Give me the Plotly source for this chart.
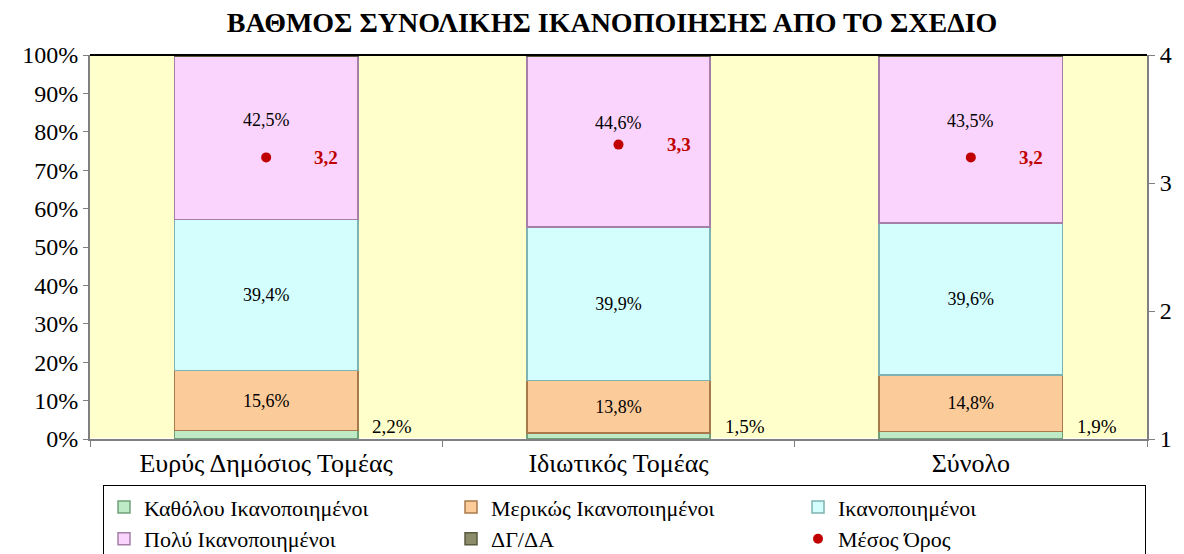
import plotly.graph_objects as go

categories = ["Ευρύς Δημόσιος Τομέας", "Ιδιωτικός Τομέας", "Σύνολο"]
katholou = [2.2, 1.5, 1.9]
merikos = [15.6, 13.8, 14.8]
ikanopoiimenoi = [39.4, 39.9, 39.6]
poly = [42.5, 44.6, 43.5]
dg_da = [0.3, 0.2, 0.2]
mesos_oros = [3.2, 3.3, 3.2]

FONT = "Liberation Serif, Times New Roman, serif"

series = [
    ("Καθόλου Ικανοποιημένοι", katholou, "#BEEBC6", "#6FA07A", False),
    ("Μερικώς Ικανοποιημένοι", merikos, "#FBCB9A", "#A8794A", True),
    ("Ικανοποιημένοι", ikanopoiimenoi, "#D4FEFE", "#7FB3B3", True),
    ("Πολύ Ικανοποιημένοι", poly, "#FAD4FC", "#A57FA8", False),
    ("ΔΓ/ΔΑ", dg_da, "#8C8C6A", "#5A5A40", False),
]

fig = go.Figure()
for name, vals, col, edge, show_text in series:
    fig.add_trace(go.Bar(
        name=name, x=categories, y=vals,
        marker=dict(color=col, line=dict(color=edge, width=1.5)),
        width=0.52,
        texttemplate="%{y:.1f}%" if show_text else None,
        textposition="inside" if show_text else "none",
        insidetextanchor="middle",
        textfont=dict(family=FONT, size=18, color="black"),
        textangle=0,
    ))

fig.add_trace(go.Scatter(
    name="Μέσος Όρος", x=categories, y=mesos_oros, yaxis="y2",
    mode="markers", marker=dict(color="#C00000", size=10),
))

# labels for the pink segment (sit a bit above the middle, as in the original)
for c, a, b, d, v in zip(categories, katholou, merikos, ikanopoiimenoi, poly):
    fig.add_annotation(x=c, y=a + b + d + v / 2, yshift=18, showarrow=False,
                       text=f"{v:.1f}%".replace(".", ","),
                       font=dict(family=FONT, size=18, color="black"))
# outside label for the green segment
for c, v in zip(categories, katholou):
    fig.add_annotation(x=c, y=0, yanchor="bottom", xshift=126, showarrow=False,
                       text=f"{v:.1f}%".replace(".", ","),
                       font=dict(family=FONT, size=19, color="black"))
# mean labels
for c, v in zip(categories, mesos_oros):
    fig.add_annotation(x=c, y=v, yref="y2", xshift=60, showarrow=False,
                       text=f"<b>{v:.1f}</b>".replace(".", ","),
                       font=dict(family=FONT, size=19, color="#C00000"))

fig.update_layout(
    barmode="stack",
    separators=",.",
    width=1184, height=554,
    margin=dict(l=90, r=37, t=55, b=115, autoexpand=False),
    paper_bgcolor="white",
    plot_bgcolor="#FFFFCC",
    font=dict(family=FONT, size=24, color="black"),
    title=dict(text="<b>ΒΑΘΜΟΣ ΣΥΝΟΛΙΚΗΣ ΙΚΑΝΟΠΟΙΗΣΗΣ ΑΠΟ ΤΟ ΣΧΕΔΙΟ</b>",
               x=0.517, xanchor="center", y=0.96, yanchor="middle",
               font=dict(family=FONT, size=28)),
    xaxis=dict(showgrid=False, ticks="outside", tickson="boundaries", ticklen=6,
               tickcolor="#808080", showline=True, linecolor="#808080", linewidth=2,
               tickfont=dict(size=26), automargin=False),
    yaxis=dict(range=[0, 100], dtick=10, ticksuffix="%", showgrid=False,
               ticks="outside", ticklen=5, tickcolor="#808080",
               showline=True, linecolor="#808080", linewidth=2,
               tickfont=dict(size=24), automargin=False),
    yaxis2=dict(range=[1, 4], dtick=1, overlaying="y", side="right",
                showgrid=False, ticks="outside", ticklen=6, tickcolor="#808080",
                showline=True, linecolor="#808080", linewidth=2,
                tickfont=dict(size=24), zeroline=False, automargin=False),
    legend=dict(orientation="h", xref="container", yref="container",
                x=0.087, xanchor="left", y=0.124, yanchor="top",
                bordercolor="black", borderwidth=1, bgcolor="white",
                entrywidth=302, font=dict(size=22), traceorder="normal",
                tracegroupgap=0),
    bargap=0.48,
)
# black top border of the plot area
fig.add_shape(type="line", xref="paper", yref="paper", x0=0, x1=1, y0=1, y1=1,
              line=dict(color="black", width=2))

fig.write_html("out.html", config={"displayModeBar": False},
               post_script="document.body.style.margin='0';")
